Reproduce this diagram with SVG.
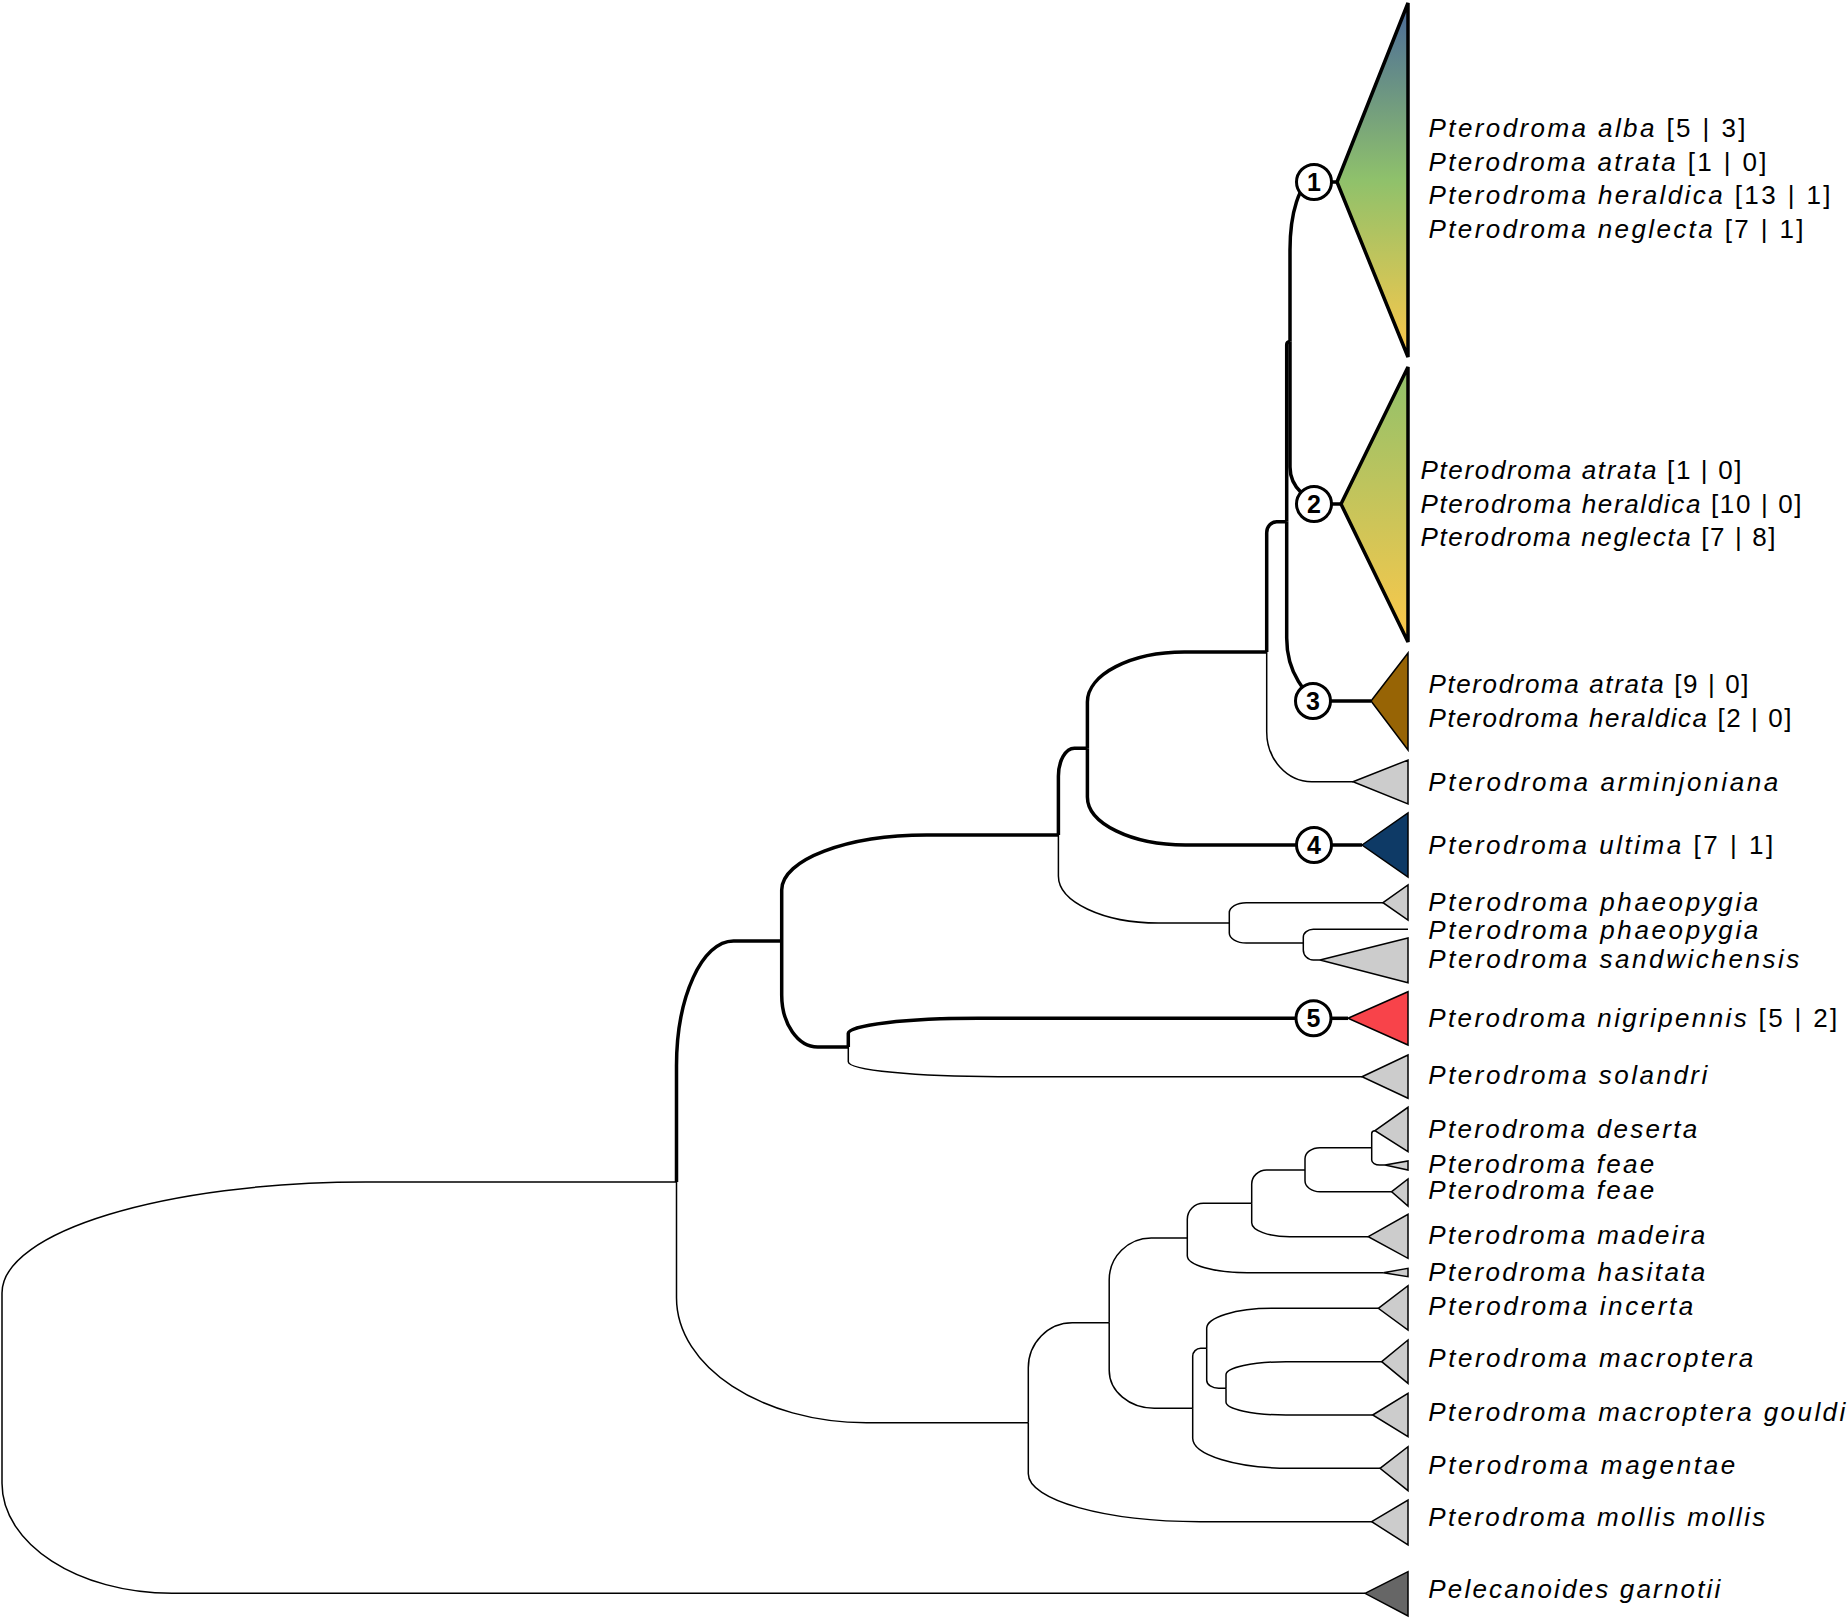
<svg xmlns="http://www.w3.org/2000/svg" width="1848" height="1618" viewBox="0 0 1848 1618">
<style>
.thin{fill:none;stroke:#000;stroke-width:1.5}
.thick{fill:none;stroke:#000;stroke-width:3.5}
.tri{stroke:#000;stroke-width:1.5;stroke-linejoin:miter}
.trik{stroke:#000;stroke-width:3.5;stroke-linejoin:miter}
.grey{fill:#cccccc}
.lab{font-family:"Liberation Sans",Arial,sans-serif;font-size:26px;fill:#000}
.it{font-style:italic}
.num circle{fill:#fff;stroke:#000;stroke-width:3}
.num text{font-family:"Liberation Sans",Arial,sans-serif;font-weight:bold;font-size:25px;text-anchor:middle;fill:#000}
</style>
<defs>
<linearGradient id="g1" gradientUnits="userSpaceOnUse" x1="0" y1="3" x2="0" y2="357">
<stop offset="0" stop-color="#4a6a9a"/>
<stop offset="0.5" stop-color="#8fc16b"/>
<stop offset="1" stop-color="#fdc84a"/>
</linearGradient>
<linearGradient id="g2" gradientUnits="userSpaceOnUse" x1="0" y1="367" x2="0" y2="642">
<stop offset="0" stop-color="#8fc16b"/>
<stop offset="1" stop-color="#fdc84a"/>
</linearGradient>
</defs>
<rect width="1848" height="1618" fill="#fff"/>

<g id="connectors">
<path class="thin" d="M2,1387 V1293 C2,1231.7 165.1,1182 366,1182 H676.5"/>
<path class="thin" d="M2,1387 V1483.3 C2,1544 78.2,1593.3 172,1593.3 H1365"/>
<path class="thin" d="M676.5,1182 V1297.7 C676.5,1366.7 761.6,1422.7 866.5,1422.7 H1028.3"/>
<path class="thin" d="M1058.4,835 V876 C1058.4,901.9 1103.2,923 1158.4,923 H1229.3"/>
<path class="thin" d="M1266.7,652 V731.7 C1266.7,759.3 1286.9,781.7 1311.7,781.7 H1353"/>
<path class="thin" d="M1229.3,923 V912.7 C1229.3,907.2 1236.9,902.7 1246.3,902.7 H1383"/>
<path class="thin" d="M1229.3,923 V933 C1229.3,938.5 1236.9,943 1246.3,943 H1303.3"/>
<path class="thin" d="M1303.3,943 V937.3 C1303.3,932.9 1307.8,929.3 1313.3,929.3 H1408"/>
<path class="thin" d="M1303.3,943 V950 C1303.3,955.5 1307.8,960 1313.3,960 H1320"/>
<path class="thin" d="M848.3,1047 V1061.7 C848.3,1070 915.5,1076.7 998.3,1076.7 H1362"/>
<path class="thin" d="M1028.3,1422.7 V1367.7 C1028.3,1342.9 1048,1322.7 1072.3,1322.7 H1109.2"/>
<path class="thin" d="M1028.3,1422.7 V1473.7 C1028.3,1500.2 1105.4,1521.7 1200.3,1521.7 H1371.7"/>
<path class="thin" d="M1109.2,1322.7 V1280 C1109.2,1256.8 1128,1238 1151.2,1238 H1187.3"/>
<path class="thin" d="M1109.2,1322.7 V1370.3 C1109.2,1391.3 1129.4,1408.3 1154.2,1408.3 H1192.7"/>
<path class="thin" d="M1187.3,1238 V1219.3 C1187.3,1210.5 1194.5,1203.3 1203.3,1203.3 H1251.7"/>
<path class="thin" d="M1187.3,1238 V1255.7 C1187.3,1265.1 1214.2,1272.7 1247.3,1272.7 H1383.3"/>
<path class="thin" d="M1251.7,1203.3 V1184 C1251.7,1176.3 1258.4,1170 1266.7,1170 H1305"/>
<path class="thin" d="M1251.7,1203.3 V1222.7 C1251.7,1230.4 1268.7,1236.7 1289.7,1236.7 H1368.3"/>
<path class="thin" d="M1305,1170 V1158.7 C1305,1152.6 1311.7,1147.7 1320,1147.7 H1371.7"/>
<path class="thin" d="M1305,1170 V1180.7 C1305,1186.8 1311.7,1191.7 1320,1191.7 H1391.7"/>
<path class="thin" d="M1371.7,1148 V1133.7 Q1371.7,1130.7 1375,1130.7"/>
<path class="thin" d="M1371.7,1148 V1160 C1371.7,1162.8 1375.3,1165 1379.7,1165 H1385"/>
<path class="thin" d="M1192.7,1408.3 V1356.3 C1192.7,1351.9 1196.3,1348.3 1200.7,1348.3 H1206.7"/>
<path class="thin" d="M1192.7,1408.3 V1438.3 C1192.7,1454.9 1236.2,1468.3 1289.7,1468.3 H1380"/>
<path class="thin" d="M1206.7,1348.3 V1328.3 C1206.7,1317.3 1235.8,1308.3 1271.7,1308.3 H1378.3"/>
<path class="thin" d="M1206.7,1348.3 V1380.3 C1206.7,1384.7 1212.1,1388.3 1218.7,1388.3 H1226"/>
<path class="thin" d="M1226,1388.3 V1374.7 C1226,1367.5 1252.9,1361.7 1286,1361.7 H1381.7"/>
<path class="thin" d="M1226,1388.3 V1402 C1226,1409.2 1252.9,1415 1286,1415 H1372.7"/>

<path class="thick" d="M676.5,1182 V1066 C676.5,997 702,941 733.5,941 H781.7"/>
<path class="thick" d="M781.7,941 V890 C781.7,859.6 846.7,835 926.7,835 H1058.4"/>
<path class="thick" d="M781.7,941 V995 C781.7,1023.7 797.8,1047 817.7,1047 H848.3"/>
<path class="thick" d="M1058.4,835 V776.3 C1058.4,760.8 1065.6,748.3 1074.4,748.3 H1087.4"/>
<path class="thick" d="M1087.4,748.3 V702 C1087.4,674.4 1130.9,652 1184.4,652 H1266.7"/>
<path class="thick" d="M1087.4,748.3 V797 C1087.4,823.5 1131.3,845 1185.4,845 H1300"/>
<path class="thick" d="M1266.7,652 V532.7 C1266.7,526.6 1271.2,521.7 1276.7,521.7 H1286.7"/>
<path class="thick" d="M1286.7,521.7 V344.7 Q1286.7,341.7 1290,341.7"/>
<path class="thick" d="M1286.7,521.7 V638 C1286.7,669.8 1304.6,701 1326.7,701"/>
<path class="thick" d="M1290,341.7 V250 C1290,212.5 1299.9,182 1312,182"/>
<path class="thick" d="M1290,341.7 V467 C1290,487.4 1307.9,504 1330,504"/>
<path class="thick" d="M848.3,1047 V1033.3 C848.3,1025 906.5,1018.3 978.3,1018.3 H1300"/>
<path class="thick" d="M1328,182 H1337"/>
<path class="thick" d="M1328,504 H1341"/>
<path class="thick" d="M1328,701 H1371"/>
<path class="thick" d="M1328,845 H1362"/>
<path class="thick" d="M1328,1018.3 H1348"/>
</g>

<g id="clade1">
<polygon class="trik" fill="url(#g1)" points="1337,182 1408,3 1408,357"/>
<text class="lab" x="1428.5" y="137" textLength="317"><tspan class="it">Pterodroma alba</tspan> [5 | 3]</text>
<text class="lab" x="1428.5" y="170.5" textLength="338"><tspan class="it">Pterodroma atrata</tspan> [1 | 0]</text>
<text class="lab" x="1428.5" y="204" textLength="402"><tspan class="it">Pterodroma heraldica</tspan> [13 | 1]</text>
<text class="lab" x="1428.5" y="238" textLength="375"><tspan class="it">Pterodroma neglecta</tspan> [7 | 1]</text>
</g>
<g id="clade2">
<polygon class="trik" fill="url(#g2)" points="1341,504 1408,367 1408,642"/>
<text class="lab" x="1420.5" y="479" textLength="321"><tspan class="it">Pterodroma atrata</tspan> [1 | 0]</text>
<text class="lab" x="1420.5" y="513" textLength="381"><tspan class="it">Pterodroma heraldica</tspan> [10 | 0]</text>
<text class="lab" x="1420.5" y="546" textLength="355"><tspan class="it">Pterodroma neglecta</tspan> [7 | 8]</text>
</g>
<g id="clade3">
<polygon class="tri" fill="#976405" points="1371,701 1408,653 1408,750"/>
<text class="lab" x="1428.5" y="692.5" textLength="320"><tspan class="it">Pterodroma atrata</tspan> [9 | 0]</text>
<text class="lab" x="1428.5" y="726.5" textLength="363"><tspan class="it">Pterodroma heraldica</tspan> [2 | 0]</text>
</g>
<g id="arminjoniana">
<polygon class="tri grey" points="1353,781.7 1408,760 1408,804"/>
<text class="lab it" x="1428.3" y="790.5" textLength="350">Pterodroma arminjoniana</text>
</g>
<g id="ultima">
<polygon class="tri" fill="#0e3a66" points="1362,845 1408,813 1408,877"/>
<text class="lab" x="1428.3" y="853.5" textLength="345"><tspan class="it">Pterodroma ultima</tspan> [7 | 1]</text>
</g>
<g id="phaeopygia1">
<polygon class="tri grey" points="1383,902.7 1408,885 1408,920"/>
<text class="lab it" x="1428.3" y="910.7" textLength="330">Pterodroma phaeopygia</text>
</g>
<g id="phaeopygia2">
<text class="lab it" x="1428.3" y="938.5" textLength="330">Pterodroma phaeopygia</text>
</g>
<g id="sandwichensis">
<polygon class="tri grey" points="1320,960 1408,938 1408,982.7"/>
<text class="lab it" x="1428.3" y="968.3" textLength="371">Pterodroma sandwichensis</text>
</g>
<g id="nigripennis">
<polygon class="tri" fill="#f8434a" points="1348,1018.3 1408,991.7 1408,1045"/>
<text class="lab" x="1428.3" y="1026.7" textLength="409"><tspan class="it">Pterodroma nigripennis</tspan> [5 | 2]</text>
</g>
<g id="solandri">
<polygon class="tri grey" points="1362,1076.7 1408,1055 1408,1098.3"/>
<text class="lab it" x="1428.3" y="1083.5" textLength="279">Pterodroma solandri</text>
</g>
<g id="deserta">
<polygon class="tri grey" points="1375,1130.7 1408,1107.3 1408,1151.7"/>
<text class="lab it" x="1428.3" y="1138.3" textLength="269">Pterodroma deserta</text>
</g>
<g id="feae1">
<polygon class="tri grey" points="1385,1165 1408,1161 1408,1170"/>
<text class="lab it" x="1428.3" y="1173" textLength="226">Pterodroma feae</text>
</g>
<g id="feae2">
<polygon class="tri grey" points="1391.7,1191.7 1408,1179 1408,1206"/>
<text class="lab it" x="1428.3" y="1198.8" textLength="226">Pterodroma feae</text>
</g>
<g id="madeira">
<polygon class="tri grey" points="1368.3,1236.7 1408,1214.3 1408,1258.3"/>
<text class="lab it" x="1428.3" y="1243.8" textLength="277">Pterodroma madeira</text>
</g>
<g id="hasitata">
<polygon class="tri grey" points="1383.3,1272.7 1408,1268.3 1408,1276.7"/>
<text class="lab it" x="1428.3" y="1280.5" textLength="277">Pterodroma hasitata</text>
</g>
<g id="incerta">
<polygon class="tri grey" points="1378.3,1308.3 1408,1285.7 1408,1330"/>
<text class="lab it" x="1428.3" y="1314.5" textLength="265">Pterodroma incerta</text>
</g>
<g id="macroptera">
<polygon class="tri grey" points="1381.7,1361.7 1408,1340 1408,1383.3"/>
<text class="lab it" x="1428.3" y="1367" textLength="325">Pterodroma macroptera</text>
</g>
<g id="gouldi">
<polygon class="tri grey" points="1372.7,1415 1408,1393.3 1408,1436.7"/>
<text class="lab it" x="1428.3" y="1420.5" textLength="417">Pterodroma macroptera gouldi</text>
</g>
<g id="magentae">
<polygon class="tri grey" points="1380,1468.3 1408,1446.7 1408,1490.7"/>
<text class="lab it" x="1428.3" y="1473.5" textLength="307">Pterodroma magentae</text>
</g>
<g id="mollis">
<polygon class="tri grey" points="1371.7,1521.7 1408,1500 1408,1545"/>
<text class="lab it" x="1428.3" y="1525.5" textLength="337">Pterodroma mollis mollis</text>
</g>
<g id="pelecanoides">
<polygon class="tri" fill="#666666" points="1365,1593.3 1408,1571.7 1408,1616"/>
<text class="lab it" x="1428.3" y="1597.5" textLength="292">Pelecanoides garnotii</text>
</g>

<g id="node1" class="num"><circle cx="1314" cy="182" r="17.5"/><text x="1314" y="191">1</text></g>
<g id="node2" class="num"><circle cx="1314" cy="504" r="17.5"/><text x="1314" y="513">2</text></g>
<g id="node3" class="num"><circle cx="1313" cy="701" r="17.5"/><text x="1313" y="710">3</text></g>
<g id="node4" class="num"><circle cx="1314" cy="845" r="17.5"/><text x="1314" y="854">4</text></g>
<g id="node5" class="num"><circle cx="1313.5" cy="1018.3" r="17.5"/><text x="1313.5" y="1027.3">5</text></g>
</svg>
